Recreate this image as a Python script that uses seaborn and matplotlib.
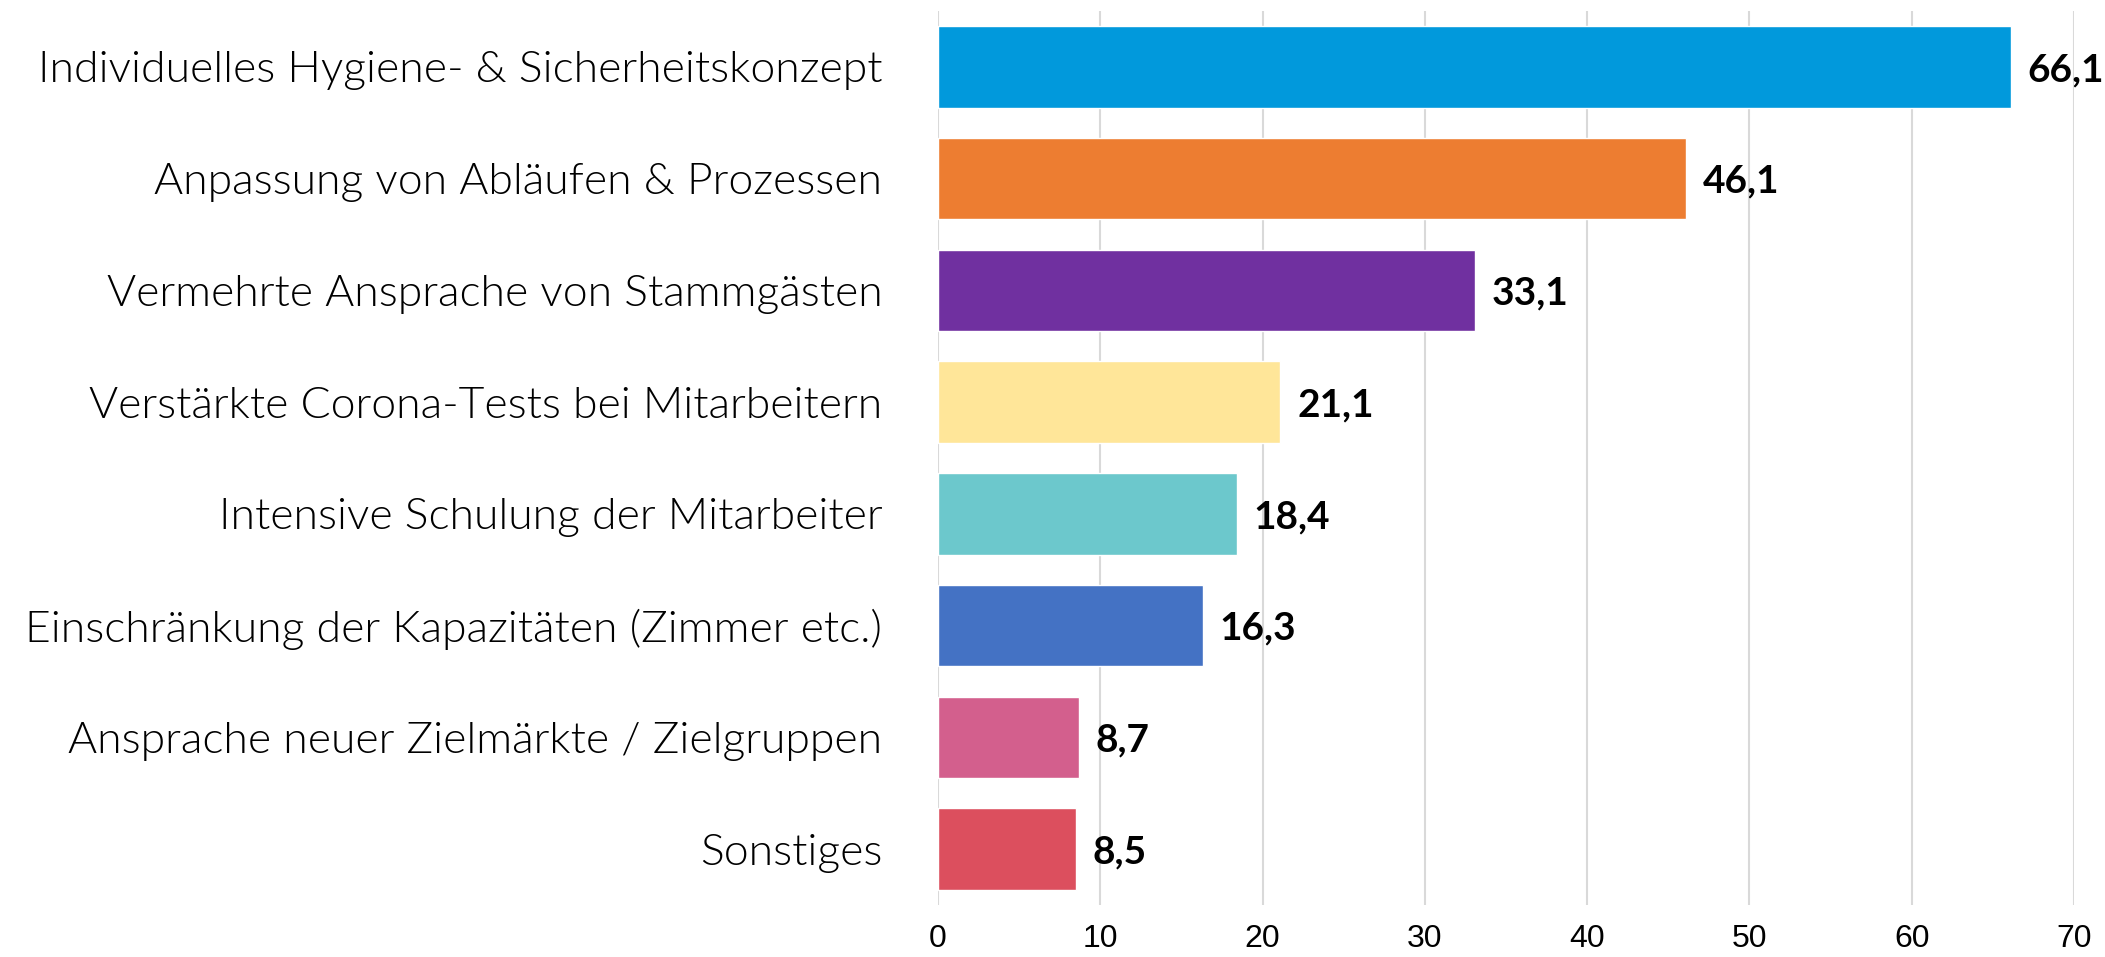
import matplotlib
matplotlib.use("Agg")
import matplotlib.pyplot as plt
import seaborn as sns
import pandas as pd

categories = [
    "Individuelles Hygiene- & Sicherheitskonzept",
    "Anpassung von Abläufen & Prozessen",
    "Vermehrte Ansprache von Stammgästen",
    "Verstärkte Corona-Tests bei Mitarbeitern",
    "Intensive Schulung der Mitarbeiter",
    "Einschränkung der Kapazitäten (Zimmer etc.)",
    "Ansprache neuer Zielmärkte / Zielgruppen",
    "Sonstiges",
]
values = [66.1, 46.1, 33.1, 21.1, 18.4, 16.3, 8.7, 8.5]
colors = ["#0199DC", "#ED7D31", "#7030A0", "#FFE699", "#6CC8CC", "#4472C4", "#D35F8D", "#DC4F5E"]
xticks = [0, 10, 20, 30, 40, 50, 60, 70]

sns.set_theme(style="white")
plt.rcParams["font.family"] = ["Liberation Sans", "DejaVu Sans"]

df = pd.DataFrame({"cat": categories, "val": values})

fig = plt.figure(figsize=(21.05, 9.57), dpi=100)
ax = fig.add_axes([0.4456, 0.0543, 0.5397, 0.9342])

sns.barplot(data=df, x="val", y="cat", hue="cat", palette=colors, legend=False,
            orient="h", width=0.73, saturation=1, ax=ax)

ax.set_xlim(0, 70)
ax.set_ylim(7.5, -0.5)
ax.set_xticks(xticks)
ax.set_xticklabels([str(t) for t in xticks], fontsize=23, color="black")
ax.tick_params(axis="x", length=0, pad=14)
ax.tick_params(axis="y", length=0, pad=40)
for lbl in ax.get_yticklabels():
    lbl.set_fontfamily(["Lato", "DejaVu Sans"])
    lbl.set_fontweight(300)
    lbl.set_fontsize(32)
    lbl.set_color("black")
    lbl.set_y(lbl.get_position()[1])
ax.set_xlabel("")
ax.set_ylabel("")
ax.set_axisbelow(True)
ax.grid(axis="x", color="#D9D9D9", linewidth=1.5)
ax.grid(axis="y", visible=False)
for s in ["top", "right", "bottom", "left"]:
    ax.spines[s].set_visible(False)

for i, v in enumerate(values):
    ax.annotate(f"{v:.1f}".replace(".", ","), xy=(v, i), xytext=(12, -2),
                textcoords="offset points", va="center", ha="left",
                fontsize=28, fontweight="bold", family=["Lato", "DejaVu Sans"],
                color="black", annotation_clip=False)

fig.savefig("out.png", dpi=100, facecolor="white")
